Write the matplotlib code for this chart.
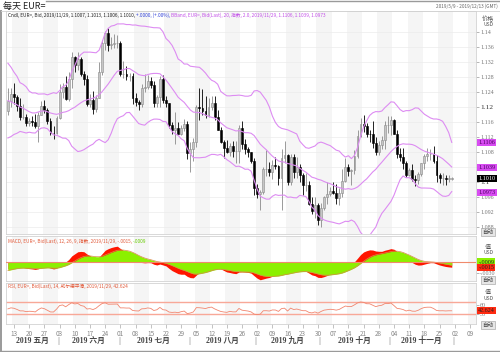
import numpy as np
import pandas as pd
import matplotlib
matplotlib.use("Agg")
import matplotlib.pyplot as plt
from matplotlib import transforms
from matplotlib.lines import Line2D

plt.rcParams['font.family'] = ['Noto Sans CJK SC', 'DejaVu Sans']
plt.rcParams['axes.unicode_minus'] = False

# EUR= daily closes 2019-03-01 .. 2019-05-08, only used to warm up the studies
warmup_closes = [
    1.1365, 1.1339, 1.1306, 1.1307, 1.1193, 1.1235, 1.1245, 1.1287, 1.1327, 1.1306,
    1.1326, 1.1339, 1.1352, 1.1418, 1.1374, 1.1302, 1.1314, 1.1265, 1.1250, 1.1223,
    1.1217, 1.1213, 1.1214, 1.1234, 1.1220, 1.1216, 1.1262, 1.1264, 1.1274, 1.1253,
    1.1300, 1.1305, 1.1284, 1.1295, 1.1235, 1.1247, 1.1259, 1.1225, 1.1153, 1.1132,
    1.1150, 1.1181, 1.1214, 1.1195, 1.1172, 1.1200, 1.1200, 1.1192, 1.1191,
]

# visible bars 2019-05-09 .. 2019-11-29 (one per weekday)
opens = [
    # May
    1.1190, 1.1215, 1.1234, 1.1226, 1.1204, 1.1174, 1.1174, 1.1158, 1.1163, 1.1160,
    1.1150, 1.1180, 1.1204, 1.1192, 1.1164, 1.1131, 1.1130,
    # Jun
    1.1170, 1.1240, 1.1254, 1.1222, 1.1276, 1.1333, 1.1312, 1.1327, 1.1289, 1.1274,
    1.1209, 1.1218, 1.1194, 1.1225, 1.1293, 1.1370, 1.1397, 1.1366, 1.1368, 1.1370,
    # Jul
    1.1372, 1.1287, 1.1288, 1.1283, 1.1284, 1.1224, 1.1213, 1.1208, 1.1251, 1.1254,
    1.1270, 1.1260, 1.1212, 1.1226, 1.1275, 1.1219, 1.1210, 1.1151, 1.1139, 1.1143,
    1.1127, 1.1145, 1.1155,
    # Aug
    1.1077, 1.1088, 1.1106, 1.1201, 1.1198, 1.1190, 1.1179, 1.1201, 1.1211, 1.1173,
    1.1139, 1.1106, 1.1090, 1.1079, 1.1096, 1.1082, 1.1082, 1.1143, 1.1101, 1.1089,
    1.1079, 1.1056,
    # Sep
    1.0985, 1.0967, 1.0973, 1.1034, 1.1035, 1.1026, 1.1046, 1.1044, 1.1011, 1.1063,
    1.1072, 1.1001, 1.1068, 1.1027, 1.1040, 1.1018, 1.0992, 1.0992, 1.0941, 1.0922,
    1.0940,
    # Oct
    1.0899, 1.0931, 1.0959, 1.0969, 1.0977, 1.0971, 1.0957, 1.0970, 1.1004, 1.1040,
    1.1030, 1.1031, 1.1069, 1.1123, 1.1156, 1.1150, 1.1128, 1.1127, 1.1104, 1.1080,
    1.1100, 1.1111, 1.1152,
    # Nov
    1.1152, 1.1166, 1.1128, 1.1076, 1.1067, 1.1051, 1.1018, 1.1032, 1.1009, 1.1006,
    1.1022, 1.1050, 1.1070, 1.1075, 1.1075, 1.1055, 1.1018, 1.1011, 1.1012, 1.1008,
    1.1007,
]
highs = [
    1.1252, 1.1251, 1.1264, 1.1231, 1.1225, 1.1208, 1.1182, 1.1172, 1.1176, 1.1181,
    1.1188, 1.1215, 1.1218, 1.1198, 1.1172, 1.1149, 1.1175,
    1.1262, 1.1265, 1.1282, 1.1294, 1.1348, 1.1336, 1.1348, 1.1333, 1.1296, 1.1285,
    1.1236, 1.1242, 1.1232, 1.1320, 1.1379, 1.1404, 1.1412, 1.1386, 1.1394, 1.1392,
    1.1376, 1.1324, 1.1310, 1.1292, 1.1291, 1.1238, 1.1219, 1.1262, 1.1287, 1.1286,
    1.1280, 1.1269, 1.1232, 1.1282, 1.1286, 1.1230, 1.1212, 1.1160, 1.1188, 1.1161,
    1.1153, 1.1167, 1.1163,
    1.1108, 1.1118, 1.1206, 1.1250, 1.1249, 1.1230, 1.1224, 1.1230, 1.1229, 1.1192,
    1.1147, 1.1113, 1.1113, 1.1104, 1.1109, 1.1110, 1.1153, 1.1164, 1.1116, 1.1094,
    1.1081, 1.1064,
    1.0995, 1.0980, 1.1040, 1.1085, 1.1053, 1.1058, 1.1067, 1.1046, 1.1087, 1.1109,
    1.1074, 1.1075, 1.1075, 1.1068, 1.1049, 1.1025, 1.1025, 1.1003, 1.0960, 1.0959,
    1.0945,
    1.0943, 1.0963, 1.0999, 1.0986, 1.1000, 1.0996, 1.0984, 1.1034, 1.1063, 1.1047,
    1.1036, 1.1085, 1.1139, 1.1172, 1.1179, 1.1158, 1.1139, 1.1163, 1.1120, 1.1109,
    1.1122, 1.1164, 1.1175,
    1.1176, 1.1168, 1.1139, 1.1092, 1.1092, 1.1055, 1.1037, 1.1048, 1.1020, 1.1028,
    1.1052, 1.1075, 1.1090, 1.1089, 1.1097, 1.1072, 1.1024, 1.1024, 1.1020, 1.1019,
    1.1013,
]
lows = [
    1.1180, 1.1200, 1.1209, 1.1190, 1.1166, 1.1168, 1.1150, 1.1150, 1.1150, 1.1143,
    1.1107, 1.1180, 1.1183, 1.1156, 1.1126, 1.1116, 1.1128,
    1.1168, 1.1224, 1.1220, 1.1215, 1.1251, 1.1294, 1.1300, 1.1282, 1.1258, 1.1202,
    1.1200, 1.1181, 1.1188, 1.1223, 1.1286, 1.1353, 1.1350, 1.1356, 1.1357, 1.1358,
    1.1282, 1.1278, 1.1272, 1.1270, 1.1207, 1.1204, 1.1193, 1.1199, 1.1241, 1.1247,
    1.1252, 1.1200, 1.1200, 1.1201, 1.1211, 1.1200, 1.1145, 1.1128, 1.1102, 1.1127,
    1.1126, 1.1135, 1.1062,
    1.1027, 1.1055, 1.1094, 1.1165, 1.1180, 1.1170, 1.1174, 1.1193, 1.1166, 1.1139,
    1.1105, 1.1065, 1.1077, 1.1070, 1.1066, 1.1052, 1.1050, 1.1087, 1.1076, 1.1066,
    1.1050, 1.0965,
    1.0958, 1.0926, 1.0968, 1.1015, 1.1015, 1.1009, 1.1034, 1.0993, 1.0926, 1.1052,
    1.0992, 1.0993, 1.1011, 1.1011, 1.1000, 1.0966, 1.0975, 1.0938, 1.0915, 1.0905,
    1.0885,
    1.0879, 1.0925, 1.0941, 1.0963, 1.0968, 1.0941, 1.0940, 1.0960, 1.1001, 1.1015,
    1.0992, 1.1022, 1.1063, 1.1119, 1.1134, 1.1121, 1.1108, 1.1092, 1.1073, 1.1073,
    1.1087, 1.1088, 1.1132,
    1.1125, 1.1128, 1.1064, 1.1055, 1.1036, 1.1014, 1.1015, 1.1002, 1.0990, 1.0995,
    1.1015, 1.1035, 1.1055, 1.1058, 1.1052, 1.1000, 1.0998, 1.0993, 1.0992, 1.1000,
    1.1006,
]
closes = [
    1.1215, 1.1234, 1.1226, 1.1204, 1.1174, 1.1174, 1.1158, 1.1163, 1.1160, 1.1150,
    1.1180, 1.1204, 1.1192, 1.1164, 1.1131, 1.1130, 1.1170,
    1.1240, 1.1254, 1.1222, 1.1276, 1.1333, 1.1312, 1.1327, 1.1289, 1.1274, 1.1209,
    1.1218, 1.1194, 1.1225, 1.1293, 1.1370, 1.1397, 1.1366, 1.1368, 1.1370, 1.1372,
    1.1287, 1.1288, 1.1283, 1.1284, 1.1224, 1.1213, 1.1208, 1.1251, 1.1254, 1.1270,
    1.1260, 1.1212, 1.1226, 1.1275, 1.1219, 1.1210, 1.1151, 1.1139, 1.1143, 1.1127,
    1.1145, 1.1155, 1.1077,
    1.1088, 1.1106, 1.1201, 1.1198, 1.1190, 1.1179, 1.1201, 1.1211, 1.1173, 1.1139,
    1.1106, 1.1090, 1.1079, 1.1096, 1.1082, 1.1082, 1.1143, 1.1101, 1.1089, 1.1079,
    1.1056, 1.0985,
    1.0967, 1.0973, 1.1034, 1.1035, 1.1026, 1.1046, 1.1044, 1.1011, 1.1063, 1.1072,
    1.1001, 1.1068, 1.1027, 1.1040, 1.1018, 1.0992, 1.0992, 1.0941, 1.0922, 1.0940,
    1.0899,
    1.0931, 1.0959, 1.0969, 1.0977, 1.0971, 1.0957, 1.0970, 1.1004, 1.1040, 1.1030,
    1.1031, 1.1069, 1.1123, 1.1156, 1.1150, 1.1128, 1.1127, 1.1104, 1.1080, 1.1100,
    1.1111, 1.1152, 1.1152,
    1.1166, 1.1128, 1.1076, 1.1067, 1.1051, 1.1018, 1.1032, 1.1009, 1.1006, 1.1022,
    1.1050, 1.1070, 1.1075, 1.1075, 1.1055, 1.1018, 1.1011, 1.1012, 1.1008, 1.1010,
    1.1010,
]

month_names = ['五月', '六月', '七月', '八月', '九月', '十月', '十一月']
price_ticks = [1.088, 1.092, 1.096, 1.1, 1.104, 1.108, 1.112, 1.116,
               1.12, 1.124, 1.128, 1.132, 1.136, 1.14]
bband_last = [1.1106, 1.1039, 1.0973]
close_last = 1.1010
macd_last = -0.0015
signal_last = -0.0009
rsi_last = 42.624

dates = pd.bdate_range('2019-05-09', '2019-11-29')
axis_dates = pd.bdate_range('2019-05-09', '2019-12-13')

# ---- studies ---------------------------------------------------------------
n_warm = len(warmup_closes)
series = pd.Series(warmup_closes + closes)
mid = series.rolling(20).mean()
sd = series.rolling(20).std(ddof=0)
upper = (mid + 2 * sd).values[n_warm:]
lower = (mid - 2 * sd).values[n_warm:]
mid = mid.values[n_warm:]
ema12 = series.ewm(span=12, adjust=False).mean()
ema26 = series.ewm(span=26, adjust=False).mean()
macd = ema12 - ema26
signal = macd.ewm(span=9, adjust=False).mean()
macd, signal = macd.values[n_warm:], signal.values[n_warm:]
delta = series.diff()
gain = delta.clip(lower=0).ewm(alpha=1 / 14, adjust=False).mean()
loss = (-delta.clip(upper=0)).ewm(alpha=1 / 14, adjust=False).mean()
rsi = (100 - 100 / (1 + gain / loss)).values[n_warm:]

o, h, l, c = map(np.array, (opens, highs, lows, closes))
x = np.arange(len(c))

# ---- layout (pixel helpers) ------------------------------------------------
W, H = 500, 352
fig = plt.figure(figsize=(W / 100, H / 100), dpi=100)


def fx(px):
    return px / W


def fy(py):
    return 1 - py / H


L, R = 6, 476
ax_p = fig.add_axes([fx(L), fy(234), (R - L) / W, (234 - 11) / H])
ax_m = fig.add_axes([fx(L), fy(281), (R - L) / W, (281 - 236) / H])
ax_r = fig.add_axes([fx(L), fy(324), (R - L) / W, (324 - 283) / H])

mondays = [i for i, d in enumerate(axis_dates) if d.weekday() == 0]
for ax in (ax_p, ax_m, ax_r):
    ax.set_xlim(-0.625, 153.98)
    for k, m in enumerate(mondays):
        if k % 2 == 0:
            ax.axvspan(m - 0.5, m + 4.5, color='#f5f5f5', lw=0, zorder=0)
    for s in ax.spines.values():
        s.set_color('#d2d2d2')
        s.set_linewidth(0.6)
    ax.yaxis.tick_right()
    ax.tick_params(axis='y', direction='out', length=2, width=0.5, color='#999999',
                   labelsize=4.3, labelcolor='#777777', pad=1,
                   labelfontfamily='Liberation Serif')
    ax.set_xticks([])

# ---- price panel -----------------------------------------------------------
ax_p.set_ylim(1.08613, 1.14563)
ax_p.set_yticks(price_ticks)
# 1.104 sits under the middle-band tag, so its label is left blank
ax_p.set_yticklabels(['' if v == 1.104 else f'{v:.3f}'.rstrip('0').rstrip('.')
                      for v in price_ticks])
for lab in ax_p.get_yticklabels():
    if lab.get_text() in ('1.12', '1.1'):
        lab.set_fontsize(5.4)
        lab.set_color('#333333')
ax_p.grid(axis='y', color='#ebebeb', lw=0.5)
ax_p.set_axisbelow(True)

up = c >= o
body_lo = np.minimum(o, c)
body_h = np.maximum(np.abs(c - o), 0.00008)
ax_p.vlines(x[up], l[up], h[up], color='#8a8a8a', lw=0.6, zorder=3)
ax_p.vlines(x[~up], l[~up], h[~up], color='#000000', lw=0.6, zorder=3)
ax_p.bar(x[up], body_h[up], bottom=body_lo[up], width=0.62, color='#c6c6c6',
         edgecolor='#8a8a8a', lw=0.4, zorder=4)
ax_p.bar(x[~up], body_h[~up], bottom=body_lo[~up], width=0.62, color='#000000',
         edgecolor='#000000', lw=0.4, zorder=4)
for band in (upper, mid, lower):
    ax_p.plot(x, band, color='#dd8cf2', lw=0.8, zorder=5)

# ---- MACD panel ------------------------------------------------------------
ax_m.set_ylim(-0.00512, 0.00682)
ax_m.set_yticks([-0.003])
ax_m.set_yticklabels(['-.0030'])
ax_m.fill_between(x, 0, macd, color='#ff1500', lw=0, zorder=2)
ax_m.fill_between(x, 0, signal, color='#8cf000', lw=0, zorder=3)
ax_m.plot(x, signal, color='#d98a4a', lw=0.5, zorder=4)
ax_m.axhline(0, color='#f08a6c', lw=0.8, zorder=5)

# ---- RSI panel -------------------------------------------------------------
ax_r.set_ylim(-0.8, 129.4)
ax_r.set_yticks([30, 60])
ax_r.axhline(70, color='#f8a898', lw=1.0, zorder=2)
ax_r.axhline(30, color='#f8a898', lw=1.0, zorder=2)
ax_r.plot(x, rsi, color='#f2866f', lw=0.6, zorder=3)
ax_r.set_xticks(mondays)
ax_r.set_xticklabels([axis_dates[i].strftime('%d') for i in mondays])
ax_r.tick_params(axis='x', direction='out', length=3, width=0.5, color='#aaaaaa',
                 labelsize=4.6, labelcolor='#888888', pad=1.5)

# month captions below the date ticks
blend = transforms.blended_transform_factory(ax_r.transData, fig.transFigure)
month_idx = np.array([d.month for d in dates])
for m, name in zip(range(5, 12), month_names):
    idx = np.where(month_idx == m)[0]
    ax_r.text((idx[0] + idx[-1]) / 2, fy(341), f'2019 {name}', transform=blend,
              ha='center', va='center', fontsize=5.6, color='#444444', fontweight='bold',
              family=['Liberation Serif', 'Noto Sans CJK SC'], clip_on=False)
    if m > 5:
        ax_r.text(idx[0] - 0.5, fy(341), '|', transform=blend, ha='center',
                  va='center', fontsize=5.5, color='#777777', clip_on=False)
ax_r.text(len(dates) - 0.5, fy(341), '|', transform=blend, ha='center',
          va='center', fontsize=5.5, color='#777777', clip_on=False)


# ---- right-hand tags -------------------------------------------------------
def tag(ax, y, text, fc, tc='#222222'):
    tr = transforms.blended_transform_factory(ax.transAxes, ax.transData)
    ax.text(1.005, y, text, transform=tr, fontsize=4.4, color=tc, va='center', ha='left',
            family='Liberation Serif', clip_on=False, zorder=10,
            bbox=dict(boxstyle='square,pad=0.18', fc=fc, ec='none'))


tag(ax_p, bband_last[0], f'{bband_last[0]:.4f}', '#d84cf2', '#4a0060')
tag(ax_p, bband_last[1], f'{bband_last[1]:.4f}', '#d84cf2', '#4a0060')
tag(ax_p, close_last, f'{close_last:.4f}', '#000000', '#ffffff')
tag(ax_p, bband_last[2], f'{bband_last[2]:.4f}', '#d84cf2', '#4a0060')
tag(ax_m, signal_last + 0.0008, '-.0009', '#8cf000')
tag(ax_m, macd_last - 0.0001, '-.0015', '#ff2a10')
tag(ax_r, rsi_last, f'{rsi_last:.3f}', '#ff2a10')


def side(py, text, size=4.2, color='#555555', box=False):
    kw = dict(ha='center', va='center', fontsize=size, color=color)
    if box:
        kw['bbox'] = dict(boxstyle='square,pad=0.2', fc='#e6e6e6', ec='#9a9a9a', lw=0.4)
    fig.text(fx(488), fy(py), text, **kw)


side(19, '价格', 4.4)
side(24.5, 'USD', 3.6)
side(232, '自动', 4.0, '#444444', True)
side(247, '值', 4.4)
side(253, 'USD', 3.6)
side(280, '自动', 4.0, '#444444', True)
side(292, '值', 4.4)
side(298, 'USD', 3.6)
side(325, '自动', 4.0, '#444444', True)


# ---- legends ---------------------------------------------------------------
def legend_line(ax, x_px, y_px, parts, size=3.4):
    t = ax.text(fx(x_px), fy(y_px), parts[0][0], transform=fig.transFigure,
                color=parts[0][1], fontsize=size, va='center', ha='left', zorder=12)
    for s, col in parts[1:]:
        t = ax.annotate(s, xy=(1, 0), xycoords=t, va='bottom', ha='left', color=col,
                        fontsize=size, annotation_clip=False, zorder=12)


legend_line(ax_p, 8, 15.5, [
    ('Cndl, EUR=, Bid, 2019/11/29, 1.1007, 1.1013, 1.1006, 1.1010, ', '#222222'),
    ('+.0000, (+.00%), ', '#2f3fd8'),
    ('BBand, EUR=, Bid(Last), 20, 指数, 2.0, 2019/11/29, 1.1106, 1.1039, 1.0973', '#c24ee8'),
])
legend_line(ax_m, 8, 241, [
    ('MACD, EUR=, Bid(Last), 12, 26, 9, 指数, 2019/11/29, -.0015, ', '#e25a3a'),
    ('-.0009', '#66cc00'),
])
legend_line(ax_r, 8, 286.5, [
    ('RSI, EUR=, Bid(Last), 14, 威尔德平滑, 2019/11/29, 42.624', '#e25a3a'),
])

# ---- header and frame ------------------------------------------------------
fig.text(fx(3), fy(6), '每天 EUR=', fontsize=6.5, color='#222222', va='center', ha='left')
fig.text(fx(498), fy(6), '2019/5/9 - 2019/12/13 (GMT)', fontsize=3.4, color='#666666',
         va='center', ha='right')
fig.add_artist(Line2D([fx(1), fx(1)], [fy(11), fy(352)], transform=fig.transFigure,
                      color='#9a9a9a', lw=1.4))
fig.add_artist(Line2D([fx(0), fx(500)], [fy(351.3), fy(351.3)], transform=fig.transFigure,
                      color='#9a9a9a', lw=1.0))
fig.add_artist(Line2D([fx(46), fx(500)], [fy(0.6), fy(0.6)], transform=fig.transFigure,
                      color='#9a9a9a', lw=1.0))
fig.add_artist(Line2D([fx(1), fx(500)], [fy(11), fy(11)], transform=fig.transFigure,
                      color='#d2d2d2', lw=0.6))

fig.savefig('out.png', dpi=100, facecolor='white')
